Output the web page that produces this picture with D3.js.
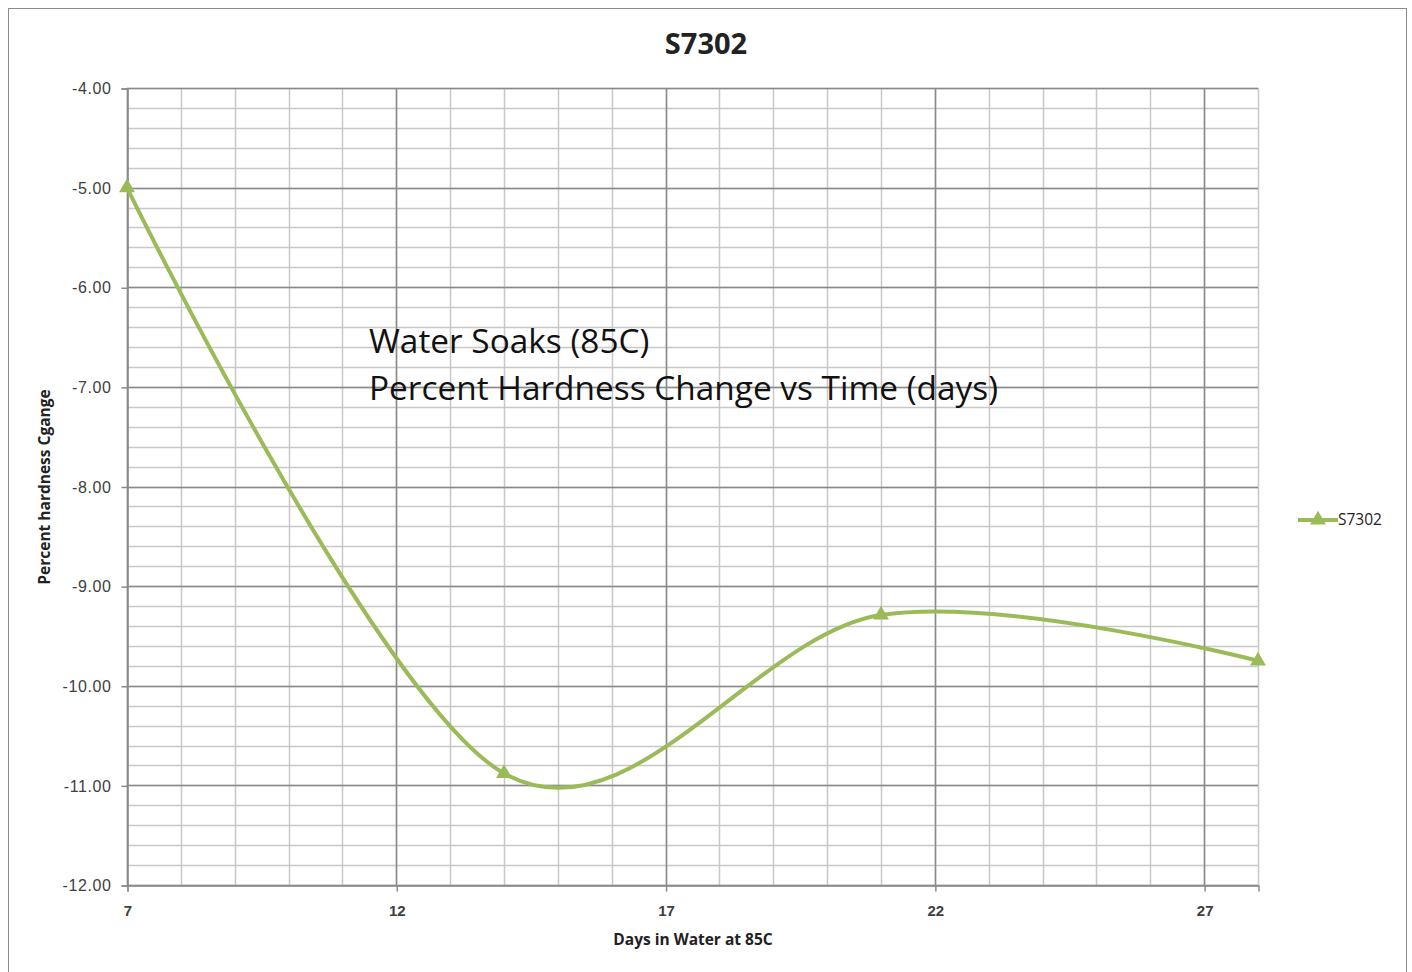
<!DOCTYPE html>
<html>
<head>
<meta charset="utf-8">
<script src="https://cdn.jsdelivr.net/npm/d3@7"></script>
<style>
  body { margin: 0; background: #fff; }
  svg { display: block; font-family: "Open Sans", sans-serif; }
</style>
</head>
<body>
<svg id="chart" width="1412" height="972"></svg>
<script>
// data
const days = [7, 14, 21, 28];
const hardnessChange = [-5.0, -10.88, -9.29, -9.75];
const xTicks = [7, 12, 17, 22, 27];
const yTicks = [-4, -5, -6, -7, -8, -9, -10, -11, -12];

const svg = d3.select('#chart');
const color = '#9bbb59';

const margin = { left: 127, right: 1258, top: 88, bottom: 885 };

const x = d3.scaleLinear().domain([7, 28]).range([margin.left, margin.right]);
const y = d3.scaleLinear().domain([-4, -12]).range([margin.top, margin.bottom]);

// outer chart border
svg.append('rect')
    .attr('x', 8.5).attr('y', 8.5)
    .attr('width', 1398).attr('height', 970)
    .attr('fill', 'none').attr('stroke', '#8c8c8c').attr('stroke-width', 1);

// minor grid
const minorY = d3.range(-12, -3.99, 0.2);
svg.append('g').selectAll('line').data(minorY).enter().append('line')
    .attr('x1', margin.left).attr('x2', margin.right)
    .attr('y1', d => Math.round(y(d)) + 0.5).attr('y2', d => Math.round(y(d)) + 0.5)
    .attr('stroke', '#c8c8c8').attr('stroke-width', 1.5);

const minorX = d3.range(7, 29, 1);
svg.append('g').selectAll('line').data(minorX).enter().append('line')
    .attr('x1', d => Math.round(x(d)) + 0.5).attr('x2', d => Math.round(x(d)) + 0.5)
    .attr('y1', margin.top).attr('y2', margin.bottom)
    .attr('stroke', '#c8c8c8').attr('stroke-width', 1.5);

// major grid
svg.append('g').selectAll('line').data(yTicks).enter().append('line')
    .attr('x1', margin.left).attr('x2', margin.right)
    .attr('y1', d => Math.round(y(d)) + 0.5).attr('y2', d => Math.round(y(d)) + 0.5)
    .attr('stroke', '#8a8a8a').attr('stroke-width', 1.5);

svg.append('g').selectAll('line').data(xTicks).enter().append('line')
    .attr('x1', d => Math.round(x(d)) + 0.5).attr('x2', d => Math.round(x(d)) + 0.5)
    .attr('y1', margin.top).attr('y2', margin.bottom)
    .attr('stroke', '#8a8a8a').attr('stroke-width', 1.5);

// axes
const xAxis = svg.append('g')
    .attr('transform', `translate(0.5,${Math.round(y(-12)) + 0.5})`)
    .call(d3.axisBottom(x).tickValues(xTicks).tickFormat(d3.format('d')).tickSize(6).tickPadding(14));
xAxis.select('.domain').attr('stroke', '#8a8a8a').attr('stroke-width', 1.5);
xAxis.selectAll('.tick line').attr('stroke', '#8a8a8a').attr('stroke-width', 1.5);
xAxis.selectAll('text').attr('font-size', 15).attr('font-weight', 'bold').attr('fill', '#404040');

const yAxis = svg.append('g')
    .attr('transform', `translate(${Math.round(x(7)) + 0.5},0.5)`)
    .call(d3.axisLeft(y).tickValues(yTicks).tickFormat(d3.format('.2f')).tickSize(6).tickPadding(10));
yAxis.select('.domain').attr('stroke', '#8a8a8a').attr('stroke-width', 1.5);
yAxis.selectAll('.tick line').attr('stroke', '#8a8a8a').attr('stroke-width', 1.5);
yAxis.selectAll('text').attr('font-size', 16).attr('letter-spacing', 0.6).attr('fill', '#404040')
    .text(d => d3.format('.2f')(d).replace('−', '-'));

// series line (Excel style smoothing)
const pts = days.map((d, i) => [d, hardnessChange[i]]);
svg.append('path')
    .datum(pts)
    .attr('fill', 'none')
    .attr('stroke', color)
    .attr('stroke-width', 4)
    .attr('d', d3.line().x(d => x(d[0])).y(d => y(d[1])).curve(d3.curveCardinal.tension(0)));

const tri = d3.symbol().type(d3.symbolTriangle).size(110);
svg.append('g').selectAll('path').data(pts).enter().append('path')
    .attr('d', tri)
    .attr('transform', d => `translate(${x(d[0])},${y(d[1])})`)
    .attr('fill', color);

// title
svg.append('text')
    .attr('x', 706).attr('y', 54)
    .attr('text-anchor', 'middle')
    .attr('font-size', 29).attr('font-weight', 'bold').attr('fill', '#222')
    .text('S7302');

// annotation
const note = svg.append('text')
    .attr('x', 369).attr('y', 353)
    .attr('font-size', 33.4).attr('fill', '#111');
note.append('tspan').attr('x', 369).text('Water Soaks (85C)');
note.append('tspan').attr('x', 369).attr('dy', 47).text('Percent Hardness Change vs Time (days)');

// axis titles
svg.append('text')
    .attr('x', 693).attr('y', 945)
    .attr('text-anchor', 'middle')
    .attr('font-size', 15.5).attr('font-weight', 'bold').attr('fill', '#222')
    .text('Days in Water at 85C');

svg.append('text')
    .attr('transform', 'translate(50,487) rotate(-90)')
    .attr('text-anchor', 'middle')
    .attr('font-size', 15.5).attr('font-weight', 'bold').attr('fill', '#222')
    .text('Percent hardness Cgange');

// legend
const lg = svg.append('g').attr('transform', 'translate(1298,520)');
lg.append('line').attr('x1', 0).attr('x2', 40).attr('y1', 0).attr('y2', 0)
    .attr('stroke', color).attr('stroke-width', 4);
lg.append('path').attr('d', tri).attr('transform', 'translate(20,0)').attr('fill', color);
lg.append('text').attr('x', 40).attr('y', 5)
    .attr('font-size', 15.5).attr('fill', '#222').text('S7302');
</script>
</body>
</html>
